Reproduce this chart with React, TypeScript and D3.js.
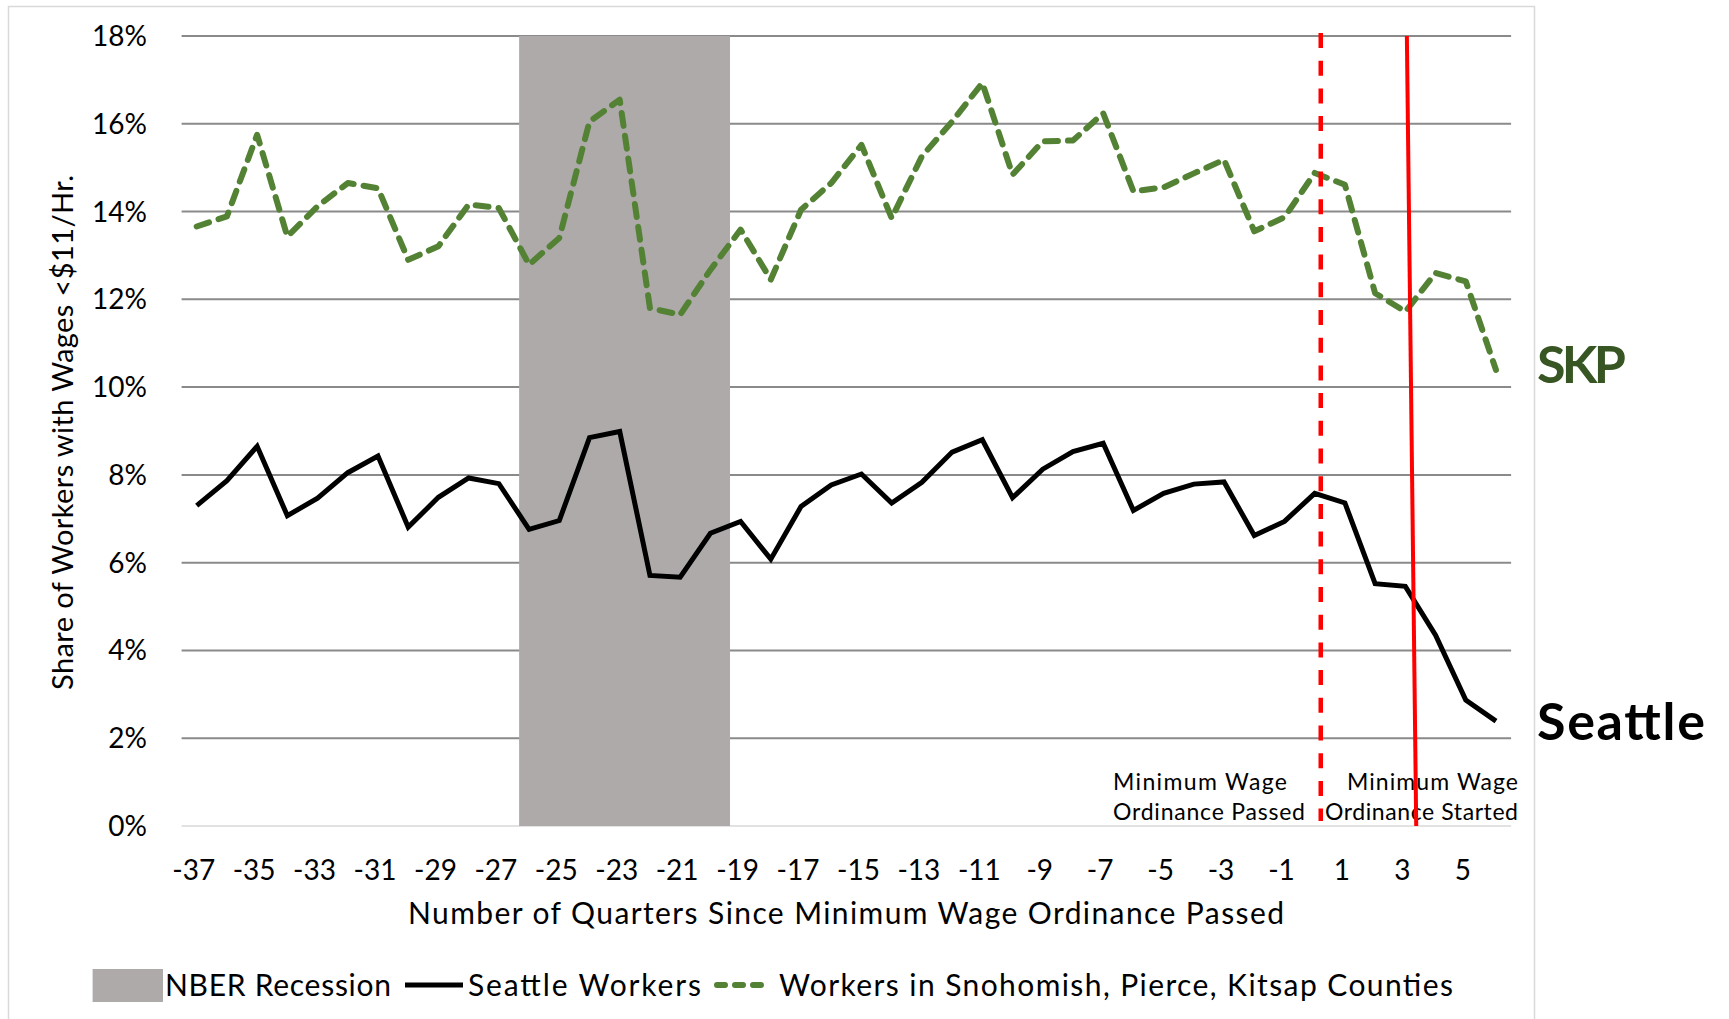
import React from "react";
import * as d3 from "d3";

const quarters = [-37, -36, -35, -34, -33, -32, -31, -30, -29, -28, -27, -26, -25, -24, -23, -22, -21, -20, -19, -18, -17, -16, -15, -14, -13, -12, -11, -10, -9, -8, -7, -6, -5, -4, -3, -2, -1, 0, 1, 2, 3, 4, 5, 6];

const seattle = [7.30, 7.87, 8.65, 7.07, 7.47, 8.05, 8.43, 6.81, 7.49, 7.93, 7.80, 6.76, 6.96, 8.85, 8.99, 5.71, 5.67, 6.67, 6.94, 6.08, 7.28, 7.77, 8.02, 7.36, 7.83, 8.52, 8.80, 7.48, 8.13, 8.53, 8.72, 7.19, 7.58, 7.79, 7.84, 6.62, 6.94, 7.58, 7.36, 5.52, 5.46, 4.35, 2.87, 2.39];

const skp = [13.66, 13.89, 15.75, 13.43, 14.12, 14.65, 14.53, 12.90, 13.21, 14.16, 14.08, 12.79, 13.40, 16.05, 16.55, 11.80, 11.65, 12.67, 13.59, 12.45, 14.04, 14.65, 15.52, 13.85, 15.26, 16.05, 16.93, 14.84, 15.60, 15.62, 16.24, 14.46, 14.55, 14.87, 15.18, 13.55, 13.87, 14.88, 14.61, 12.14, 11.72, 12.60, 12.41, 10.39];

const xTickLabels = [-37, -35, -33, -31, -29, -27, -25, -23, -21, -19, -17, -15, -13, -11, -9, -7, -5, -3, -1, 1, 3, 5];
const yTicks = [0, 2, 4, 6, 8, 10, 12, 14, 16, 18];

const recession = [-26.33, -19.35];
const ordinancePassed = 0.2;
const ordinanceStarted = [3.05, 3.36];

const legendLabels = ["NBER Recession", "Seattle Workers", "Workers in Snohomish, Pierce, Kitsap Counties"];

const FONT = "Lato, 'Open Sans', sans-serif";

export default function App() {
  const W = 1729;
  const H = 1019;
  const x = d3.scaleLinear().domain([-37, 6]).range([196.7, 1496]);
  const y = d3.scaleLinear().domain([0, 18]).range([826, 36]);
  const left = x(-37.5);
  const right = x(6.5);

  const line = d3
    .line<number>()
    .x((_, i) => x(quarters[i]))
    .y((d) => y(d));

  const green = "#548235";

  return (
    <svg
      width={W}
      height={H}
      style={{ position: "absolute", left: 0, top: 0, background: "#fff" }}
      fontFamily={FONT}
    >
      <rect x={0} y={0} width={W} height={H} fill="#fff" />
      {/* chart border */}
      <rect x={8.5} y={6.5} width={1526} height={1100} fill="none" stroke="#d9d9d9" strokeWidth={1.5} />

      {/* gridlines */}
      {yTicks.map((t) => (
        <line
          key={"g" + t}
          x1={left}
          x2={right}
          y1={y(t)}
          y2={y(t)}
          stroke={t === 0 ? "#d9d9d9" : "#8a8a8a"}
          strokeWidth={t === 0 ? 1.5 : 2}
        />
      ))}

      {/* recession */}
      <rect
        x={x(recession[0])}
        y={y(18)}
        width={x(recession[1]) - x(recession[0])}
        height={y(0) - y(18)}
        fill="#aeaaaa"
      />

      {/* y tick labels */}
      {yTicks.map((t) => (
        <text key={"yl" + t} x={147} y={y(t) + 10} textAnchor="end" fontSize={28} fill="#000">
          {t + "%"}
        </text>
      ))}

      {/* x tick labels */}
      {xTickLabels.map((q) => (
        <text key={"xl" + q} x={x(q) - 3} y={880} textAnchor="middle" fontSize={28} fill="#000">
          {String(q)}
        </text>
      ))}

      {/* axis titles */}
      <text x={408} y={924} fontSize={30} textLength={876} lengthAdjust="spacing" fill="#000">
        Number of Quarters Since Minimum Wage Ordinance Passed
      </text>
      <text
        transform="translate(73,690) rotate(-90)"
        x={0}
        y={0}
        fontSize={29}
        textLength={515}
        lengthAdjust="spacing"
        fill="#000"
      >
        {"Share of Workers with Wages <$11/Hr."}
      </text>

      {/* annotations */}
      <text x={1113} y={790} fontSize={23} textLength={174} lengthAdjust="spacing">Minimum Wage</text>
      <text x={1113} y={820} fontSize={23} textLength={192} lengthAdjust="spacing">Ordinance Passed</text>
      <text x={1347} y={790} fontSize={23} textLength={171} lengthAdjust="spacing">Minimum Wage</text>
      <text x={1325} y={820} fontSize={23} textLength={193} lengthAdjust="spacing">Ordinance Started</text>

      {/* series */}
      <path d={line(skp) || ""} fill="none" stroke={green} strokeWidth={6} strokeDasharray="13 10" strokeLinecap="round" strokeLinejoin="round" />
      <path d={line(seattle) || ""} fill="none" stroke="#000" strokeWidth={5} strokeLinejoin="miter" />

      {/* ordinance lines */}
      <line x1={x(ordinancePassed)} x2={x(ordinancePassed)} y1={y(18) - 3} y2={y(0) - 5} stroke="#ff0000" strokeWidth={4.5} strokeDasharray="15 12.7" />
      <line x1={x(ordinanceStarted[0])} x2={x(ordinanceStarted[1])} y1={y(18)} y2={y(0)} stroke="#ff0000" strokeWidth={4} />

      {/* end labels */}
      <text x={1537} y={383} fontSize={52} fontWeight="bold" fill="#375623" textLength={89} lengthAdjust="spacing">SKP</text>
      <text x={1537} y={740} fontSize={52} fontWeight="bold" fill="#000" textLength={168} lengthAdjust="spacing">Seattle</text>

      {/* legend */}
      <rect x={92.6} y={969} width={70.4} height={33} fill="#aeaaaa" />
      <text x={165} y={996} fontSize={30} textLength={226} lengthAdjust="spacing">{legendLabels[0]}</text>
      <line x1={405} x2={463} y1={985} y2={985} stroke="#000" strokeWidth={5} />
      <text x={468} y={996} fontSize={30} textLength={233} lengthAdjust="spacing">{legendLabels[1]}</text>
      <line x1={717} x2={770} y1={985} y2={985} stroke={green} strokeWidth={6} strokeDasharray="8 10" strokeLinecap="round" />
      <text x={779} y={996} fontSize={30} textLength={674} lengthAdjust="spacing">{legendLabels[2]}</text>
    </svg>
  );
}
